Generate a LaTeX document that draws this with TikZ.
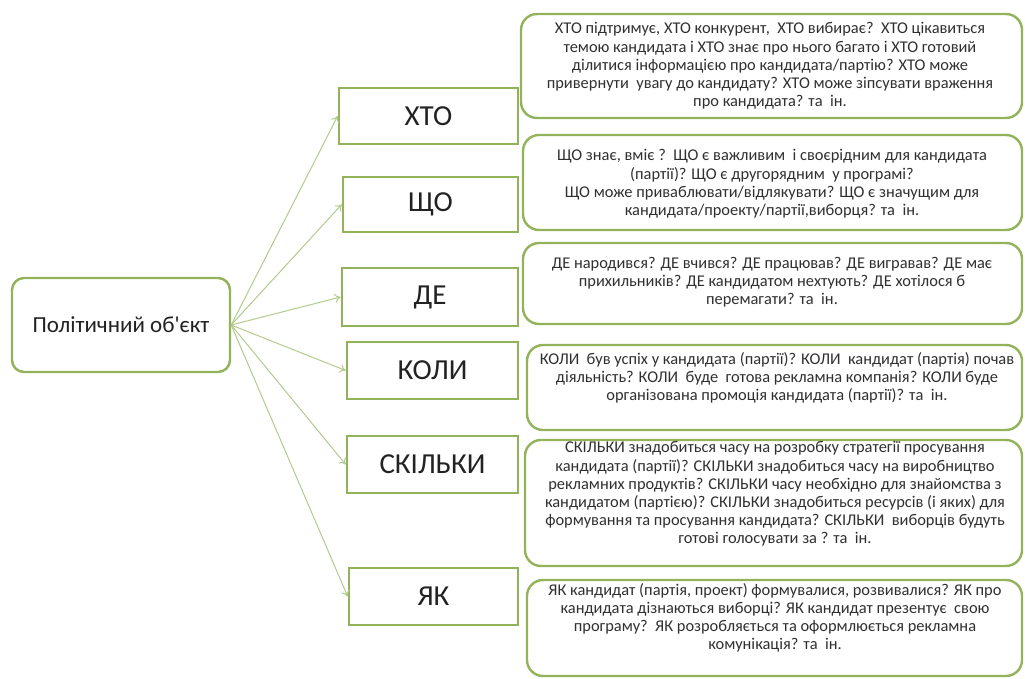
\documentclass[tikz,border=0pt]{standalone}
\usepackage{fontspec}
\setmainfont{Carlito}
\usetikzlibrary{arrows.meta}
\definecolor{boxgreen}{HTML}{93B35B}
\definecolor{arrowgreen}{HTML}{B3CB8C}
\definecolor{labeldark}{HTML}{222222}
\definecolor{textgray}{HTML}{303030}
\tikzset{
  rootbox/.style={draw=boxgreen, line width=2.4pt, rounded corners=12pt, fill=white,
    minimum width=218pt, minimum height=94pt, inner sep=0pt,
    font=\fontsize{23}{27}\selectfont, text=labeldark},
  midbox/.style={draw=boxgreen, line width=2.6pt, fill=white, inner sep=0pt,
    font=\fontsize{29}{33}\selectfont, text=labeldark},
  infobox/.style={draw=boxgreen, line width=2.4pt, rounded corners=16pt, fill=white, inner sep=0pt},
  infotext/.style={align=center, inner sep=0pt, text=textgray,
    font=\fontsize{16.4}{18.2}\selectfont},
  link/.style={draw=arrowgreen, line width=1pt, -{To[length=6pt,width=9pt]}}
}
\begin{document}
\begin{tikzpicture}[x=1pt,y=-1pt]
\useasboundingbox (0,0) rectangle (1025,679);
\fill[white] (0,0) rectangle (1025,679);

% right info boxes
\node[infobox, minimum width=501pt, minimum height=104pt] (r1) at (771.5,66) {};
\node[infobox, minimum width=499pt, minimum height=95pt] (r2) at (772.5,182.5) {};
\node[infobox, minimum width=499pt, minimum height=81pt] (r3) at (772.5,283.5) {};
\node[infobox, minimum width=495pt, minimum height=85pt] (r4) at (774.5,387.5) {};
\node[infobox, minimum width=497pt, minimum height=126pt] (r5) at (773.5,503) {};
\node[infobox, minimum width=495pt, minimum height=96pt] (r6) at (774.5,628) {};

\node[infotext] (t1) at (770,66) {ХТО підтримує, ХТО конкурент,\ \ ХТО вибирає?\ \ ХТО цікавиться\\
темою кандидата і ХТО знає про нього багато і ХТО готовий\\
ділитися інформацією про кандидата/партію? ХТО може\\
привернути\ \ увагу до кандидату? ХТО може зіпсувати враження\\
про кандидата? та\ \ ін.};
\node[infotext] (t2) at (772,184) {ЩО знає, вміє ?\ \ ЩО є важливим\ \ і своєрідним для кандидата\\
(партії)? ЩО є другорядним\ \ у програмі?\\
ЩО може приваблювати/відлякувати? ЩО є значущим для\\
кандидата/проекту/партії,виборця? та\ \ ін.};
\node[infotext] (t3) at (772,282) {ДЕ народився? ДЕ вчився? ДЕ працював? ДЕ вигравав? ДЕ має\\
прихильників? ДЕ кандидатом нехтують? ДЕ хотілося б\\
перемагати? та\ \ ін.};
\node[infotext] (t4) at (777,378) {КОЛИ\ \ був успіх у кандидата (партії)? КОЛИ\ \ кандидат (партія) почав\\
діяльність? КОЛИ\ \ буде\ \ готова рекламна компанія? КОЛИ буде\\
організована промоція кандидата (партії)? та\ \ ін.};
\node[infotext] (t5) at (775,494) {СКІЛЬКИ знадобиться часу на розробку стратегії просування\\
кандидата (партії)? СКІЛЬКИ знадобиться часу на виробництво\\
рекламних продуктів? СКІЛЬКИ часу необхідно для знайомства з\\
кандидатом (партією)? СКІЛЬКИ знадобиться ресурсів (і яких) для\\
формування та просування кандидата? СКІЛЬКИ\ \ виборців будуть\\
готові голосувати за ? та\ \ ін.};
\node[infotext] (t6) at (775,618) {ЯК кандидат (партія, проект) формувалися, розвивалися? ЯК про\\
кандидата дізнаються виборці? ЯК кандидат презентує\ \ свою\\
програму?\ \ ЯК розробляється та оформлюється рекламна\\
комунікація? та\ \ ін.};

% middle question boxes
\node[midbox, minimum width=179pt, minimum height=56pt] (m1) at (428.5,116) {ХТО};
\node[midbox, minimum width=175pt, minimum height=55pt] (m2) at (430.5,204.5) {ЩО};
\node[midbox, minimum width=176pt, minimum height=58pt] (m3) at (430,297) {ДЕ};
\node[midbox, minimum width=171pt, minimum height=57pt] (m4) at (432.5,370.5) {КОЛИ};
\node[midbox, minimum width=171pt, minimum height=57pt] (m5) at (432.5,464.5) {СКІЛЬКИ};
\node[midbox, minimum width=169pt, minimum height=57pt] (m6) at (433.5,596.5) {ЯК};

% root
\node[rootbox] (root) at (121,325) {Політичний об\textquotesingle єкт};

% connectors
\foreach \m in {m1,m2,m3,m4,m5,m6}
  \draw[link] (root.east) -- (\m.west);
\end{tikzpicture}
\end{document}
